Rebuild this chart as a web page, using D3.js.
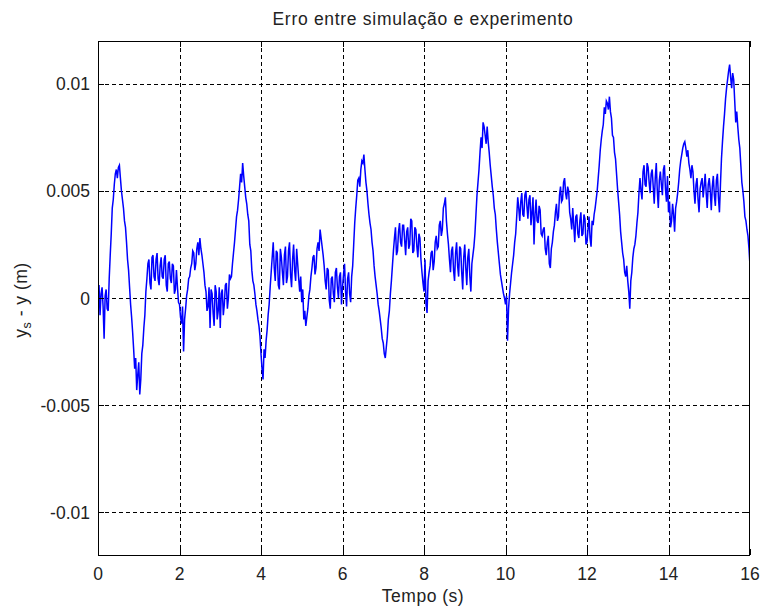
<!DOCTYPE html>
<html>
<head>
<meta charset="utf-8">
<script src="https://cdn.jsdelivr.net/npm/d3@7"></script>
<style>
  html, body { margin: 0; padding: 0; background: #ffffff; }
  svg { display: block; }
  text { font-family: "Liberation Sans", Arial, Helvetica, sans-serif; fill: #000; }
</style>
</head>
<body>
<svg id="chart" width="761" height="609"></svg>
<script>
// ---- data ----
const titleText = "Erro entre simulação e experimento";
const xLabelText = "Tempo (s)";
const xTicks = [0, 2, 4, 6, 8, 10, 12, 14, 16];
const xTickLabels = ["0", "2", "4", "6", "8", "10", "12", "14", "16"];
const yTicks = [-0.01, -0.005, 0, 0.005, 0.01];
const yTickLabels = ["-0.01", "-0.005", "0", "0.005", "0.01"];
const xDomain = [0, 16];
const yDomain = [-0.012, 0.012];
const sampleStep = 0.025; // s between samples
// error y_s - y, in millimetres; one row per half second (20 samples each)
const errorMm = [
  0.3, 0.6, -0.8, 0.2, 0.5, -0.4, -1.9, 0.1, 0.4, -0.5, -0.6, 0.9, 2.0, 3.0, 4.2, 4.6, 5.3, 5.8, 6.0, 5.6,
  6.1, 6.2, 5.6, 5.0, 4.6, 4.2, 3.6, 3.3, 2.6, 1.8, 1.3, 0.5, -0.3, -0.9, -1.6, -2.4, -3.3, -2.8, -4.3, -3.6,
  -3.0, -4.5, -3.8, -2.6, -2.2, -1.4, -0.8, 0.3, 0.9, 1.6, 1.8, 0.7, 0.4, 1.9, 2.0, 1.0, 0.8, 1.8, 2.1, 0.9,
  0.6, 1.5, 1.9, 1.0, 0.9, 1.8, 2.0, 0.6, 0.3, 1.6, 1.7, 0.9, 0.7, 1.6, 1.5, 0.2, 0.4, 1.3, 0.5, -0.2,
  -0.3, -0.9, -1.2, -0.4, -2.5, -1.0, -0.5, 0.1, 0.4, 0.9, 1.0, 1.4, 1.6, 2.2, 2.1, 1.3, 1.6, 2.3, 2.6, 2.0,
  2.8, 2.3, 2.0, 1.6, 1.2, 0.6, 0.3, -0.6, -0.4, 0.5, -1.4, 0.4, 0.2, -0.7, -1.3, 0.6, 0.3, -1.0, -0.6, 0.5,
  -1.4, 0.2, 0.4, -0.8, -0.3, 0.6, 0.7, -0.5, 0.0, 1.1, 0.9, 1.0, 1.6, 2.1, 2.6, 3.2, 3.8, 4.1, 4.6, 5.2,
  5.8, 5.4, 6.3, 5.7, 5.2, 4.7, 4.4, 3.9, 3.6, 2.5, 2.2, 1.3, 0.8, 0.6, 0.2, -0.3, -0.6, -1.0, -1.3, -1.8,
  -2.6, -3.3, -3.8, -2.4, -2.8, -2.0, -1.5, -0.8, -0.3, 0.5, 1.2, 1.9, 2.6, 1.4, 0.8, 2.2, 2.1, 0.6, 0.4, 2.3,
  1.9, 1.2, 0.6, 2.0, 2.4, 0.7, 1.0, 2.2, 2.6, 1.1, 0.5, 1.8, 2.5, 1.3, 0.8, 2.3, 1.6, 0.9, 0.3, 1.0,
  -0.2, 0.4, -1.0, -0.6, -1.3, -0.9, -0.5, 0.1, 0.4, 1.0, 1.4, 1.9, 2.0, 1.1, 1.4, 2.3, 2.6, 2.2, 3.2, 2.8,
  2.4, 2.0, 1.5, 0.8, 0.4, 1.4, 1.3, -0.1, -0.5, 0.9, 1.0, 0.2, -0.2, 1.2, 1.4, 0.5, 0.0, 1.0, 1.2, -0.3,
  0.5, 1.1, 1.6, 0.3, -0.4, 0.9, 1.2, 0.2, -0.2, 1.0, 1.5, 2.5, 3.5, 4.2, 4.8, 5.5, 5.6, 5.2, 6.0, 6.4,
  6.3, 6.7, 6.0, 5.4, 5.0, 4.4, 3.9, 3.5, 3.2, 2.6, 2.2, 1.5, 1.0, 0.6, 0.2, -0.3, -0.6, -1.0, -1.4, -1.9,
  -2.1, -2.6, -2.8, -2.3, -1.8, -1.0, -0.6, 0.2, 0.8, 1.5, 2.2, 2.8, 3.3, 2.0, 2.2, 3.1, 3.5, 2.6, 2.4, 3.4,
  3.4, 2.7, 2.0, 3.1, 3.3, 2.3, 2.5, 3.7, 3.6, 2.1, 2.2, 3.3, 3.2, 2.4, 1.9, 3.0, 2.8, 1.8, 1.2, 0.7,
  0.3, 1.8, -0.3, -0.7, 0.8, 1.2, 1.5, 2.1, 2.2, 1.3, 1.7, 2.6, 2.9, 2.3, 2.4, 3.4, 3.6, 2.9, 3.2, 4.2,
  4.4, 4.7, 3.6, 3.0, 2.5, 1.8, 1.2, 2.2, 2.4, 1.3, 0.8, 2.1, 2.6, 1.5, 1.0, 2.4, 2.3, 1.2, 0.4, 1.9,
  2.5, 1.4, 0.6, 1.9, 2.3, 1.0, 0.3, 1.6, 2.0, 2.4, 3.0, 3.9, 4.8, 5.4, 6.0, 6.8, 7.5, 7.0, 8.2, 8.0,
  7.6, 7.2, 8.0, 7.3, 6.8, 6.2, 5.7, 5.2, 4.8, 4.2, 3.9, 3.2, 2.6, 2.1, 1.6, 1.1, 0.8, 0.5, 0.2, 0.0,
  -0.3, 0.1, -2.0, -0.5, 0.2, 0.7, 1.2, 1.6, 2.0, 2.6, 3.0, 3.8, 4.7, 4.2, 3.6, 4.5, 4.9, 3.9, 3.8, 4.8,
  5.0, 4.3, 3.7, 4.6, 4.8, 3.4, 4.0, 4.7, 2.5, 3.9, 4.6, 3.6, 3.5, 4.3, 4.1, 3.0, 2.9, 3.2, 3.3, 2.3,
  2.0, 2.6, 2.9, 1.6, 1.4, 2.3, 2.6, 3.1, 3.4, 4.0, 4.4, 3.6, 3.8, 4.8, 5.2, 4.5, 4.6, 5.4, 5.6, 4.9,
  4.6, 5.2, 5.0, 4.0, 3.7, 3.2, 4.2, 3.4, 2.6, 3.8, 3.9, 3.0, 2.8, 3.6, 4.0, 2.9, 3.0, 3.9, 3.7, 2.5,
  2.6, 3.2, 3.8, 2.8, 2.4, 3.6, 3.4, 3.9, 4.2, 4.6, 5.0, 5.6, 6.2, 6.9, 7.4, 7.8, 8.1, 8.9, 8.6, 9.2,
  9.1, 8.8, 9.4, 8.7, 8.4, 7.6, 7.5, 6.8, 6.5, 5.8, 5.1, 4.5, 3.9, 3.1, 2.6, 2.1, 1.8, 1.2, 1.0, 1.5,
  0.8, 0.3, -0.5, 0.8, 1.2, 1.9, 2.3, 2.5, 2.9, 3.5, 4.0, 4.9, 5.6, 5.0, 4.6, 5.9, 6.2, 5.3, 5.2, 6.3,
  6.1, 5.4, 4.9, 5.8, 6.0, 5.2, 4.4, 5.6, 6.3, 5.0, 4.2, 5.5, 5.9, 5.3, 4.8, 6.0, 6.2, 5.1, 4.5, 5.7,
  4.0, 4.5, 3.3, 3.6, 4.4, 3.9, 3.1, 4.2, 4.5, 4.9, 5.4, 6.0, 6.4, 6.7, 7.0, 7.2, 7.3, 7.0, 6.6, 6.9,
  6.3, 6.0, 5.6, 6.2, 5.9, 5.0, 4.4, 5.3, 5.6, 4.6, 4.0, 5.1, 5.4, 5.6, 4.7, 5.2, 5.8, 4.9, 4.2, 5.3,
  5.6, 5.0, 4.1, 5.2, 5.7, 4.8, 4.3, 5.5, 5.8, 4.7, 4.0, 5.3, 6.5, 7.3, 8.0, 8.6, 9.3, 9.8, 10.2, 10.6,
  10.9, 10.3, 9.8, 10.5, 10.2, 9.2, 8.2, 8.7, 8.0, 7.4, 7.0, 6.2, 5.4, 5.0, 4.5, 3.8, 3.6, 3.2, 2.9, 2.3,
  1.5
];

// ---- layout ----
const svg = d3.select("#chart");
const plotL = 98, plotR = 750, plotT = 41, plotB = 555;
const x = d3.scaleLinear().domain(xDomain).range([plotL, plotR]);
const y = d3.scaleLinear().domain(yDomain).range([plotB, plotT]);

const points = errorMm.map((v, i) => ({ t: i * sampleStep, e: v / 1000 }));

// background
svg.append("rect").attr("x", 0).attr("y", 0).attr("width", 761).attr("height", 609).attr("fill", "#fff");

// grid
const grid = svg.append("g").attr("stroke", "#000").attr("stroke-width", 1).attr("stroke-dasharray", "4,3").attr("shape-rendering", "crispEdges");
xTicks.filter(v => v > xDomain[0] && v < xDomain[1]).forEach(v => {
  grid.append("line").attr("x1", Math.round(x(v)) + 0.5).attr("x2", Math.round(x(v)) + 0.5).attr("y1", plotT).attr("y2", plotB);
});
yTicks.forEach(v => {
  grid.append("line").attr("x1", plotL).attr("x2", plotR).attr("y1", Math.round(y(v)) + 0.5).attr("y2", Math.round(y(v)) + 0.5);
});

// data line
svg.append("clipPath").attr("id", "clip").append("rect").attr("x", plotL).attr("y", plotT).attr("width", plotR - plotL).attr("height", plotB - plotT);
const line = d3.line().x(d => x(d.t)).y(d => y(d.e));
svg.append("path").datum(points).attr("clip-path", "url(#clip)")
  .attr("fill", "none").attr("stroke", "#0000ff").attr("stroke-width", 1.5).attr("stroke-linejoin", "miter")
  .attr("d", line);

// axes box and inward ticks
const ax = svg.append("g").attr("stroke", "#000").attr("stroke-width", 1).attr("shape-rendering", "crispEdges");
const tl = 6;
xTicks.forEach(v => {
  const px = Math.round(x(v)) + 0.5;
  ax.append("line").attr("x1", px).attr("x2", px).attr("y1", plotB).attr("y2", plotB - tl);
  ax.append("line").attr("x1", px).attr("x2", px).attr("y1", plotT).attr("y2", plotT + tl);
});
yTicks.forEach(v => {
  const py = Math.round(y(v)) + 0.5;
  ax.append("line").attr("x1", plotL).attr("x2", plotL + tl).attr("y1", py).attr("y2", py);
  ax.append("line").attr("x1", plotR).attr("x2", plotR - tl).attr("y1", py).attr("y2", py);
});
ax.append("rect").attr("x", plotL + 0.5).attr("y", plotT + 0.5).attr("width", plotR - plotL - 1).attr("height", plotB - plotT)
  .attr("fill", "none").attr("stroke-width", 1.4);

// tick labels
const fs = 17.5;
svg.append("g").selectAll("text").data(xTicks).join("text")
  .attr("x", d => x(d)).attr("y", 580).attr("text-anchor", "middle")
  .style("font-size", fs + "px").style("fill", "#222")
  .text((d, i) => xTickLabels[i]);
svg.append("g").selectAll("text").data(yTicks).join("text")
  .attr("x", 90).attr("y", d => y(d) + 6.5).attr("text-anchor", "end")
  .style("font-size", fs + "px").style("fill", "#222")
  .text((d, i) => yTickLabels[i]);

// title and labels
svg.append("text").attr("x", 423).attr("y", 25).attr("text-anchor", "middle")
  .style("font-size", "17.5px").style("letter-spacing", "0.7px").style("fill", "#222").text(titleText);
svg.append("text").attr("x", 423).attr("y", 602).attr("text-anchor", "middle")
  .style("font-size", "17.5px").style("letter-spacing", "0.5px").style("fill", "#222").text(xLabelText);
const yl = svg.append("text").attr("transform", "translate(27,300) rotate(-90)").attr("text-anchor", "middle")
  .style("font-size", "17.5px").style("letter-spacing", "0.5px").style("fill", "#222");
yl.append("tspan").text("y");
yl.append("tspan").attr("dy", 4).style("font-size", "12.5px").text("s");
yl.append("tspan").attr("dy", -4).text(" - y (m)");
</script>
</body>
</html>
